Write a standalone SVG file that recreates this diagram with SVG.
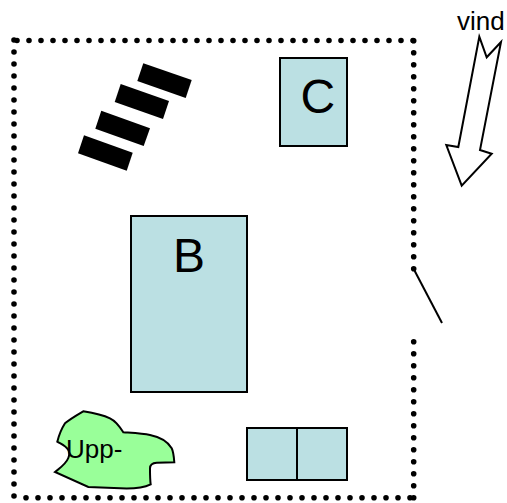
<svg xmlns="http://www.w3.org/2000/svg" width="507" height="503" viewBox="0 0 507 503">
<style>
text{font-family:"Liberation Sans",Arial,sans-serif;fill:#000}
.room{fill:#bbe0e3;stroke:#000;stroke-width:2}
.dots{fill:none;stroke:#000;stroke-width:5.6;stroke-linecap:round;stroke-dasharray:0 12}
.bar{fill:#000}
.big{font-size:48px}
.small{font-size:26px}
</style>
<rect width="507" height="503" fill="#fff"/>
<g id="fence">
<path class="dots" d="M14 40V497"/>
<path class="dots" d="M17 40.500H414"/>
<path class="dots" d="M413.700 40.700V270"/>
<path class="dots" d="M413.700 341.700V498"/>
<path class="dots" d="M26 497.700H414"/>
</g>
<g id="connectors">
<path d="M413.700 269L442 323" fill="none" stroke="#000" stroke-width="2"/>
</g>
<g id="node-c"><rect class="room" x="280" y="58" width="67" height="88"/><text class="big" x="300.500" y="113">C</text></g>
<g id="node-b"><rect class="room" x="131" y="216" width="116" height="176"/><text class="big" x="173" y="272">B</text></g>
<g id="node-d"><rect class="room" x="247" y="428" width="50" height="52"/><rect class="room" x="297" y="428" width="50" height="52"/></g>
<g id="node-solar">
<polygon class="bar" points="143.300,63.300 191.700,80 185.700,98 137.300,81"/>
<polygon class="bar" points="120.700,84 169,101 163,119 114.700,102"/>
<polygon class="bar" points="101.300,110.700 150,128.300 143.700,146 95.300,128.700"/>
<polygon class="bar" points="84,135.300 132.700,152.700 126.700,170.700 78,153.300"/>
</g>
<g id="node-upp">
<path d="M83.300 411.300C94 413 103 415 110 418.300C116 421 120 427 123.300 432.300C133 433 143 433.500 150 435C160 437 168 442 171.700 448.300C173.500 452 174 458 174.300 462.300L156.700 462.700C152 463 150 465 150 468.300C150 474 150 480 150.700 484.300C143 488 135 488.500 126.700 488.500L88.300 487L55 472C60 468 66 464 68.300 458C69.500 455 69.500 452 68.300 450C66 446 61 444 57.300 441.700C59 435 62 428 65 423.300C70 419 77 415 83.300 411.300Z" fill="#99ff99" stroke="#000" stroke-width="2"/>
<text class="small" x="66" y="458">Upp-</text>
</g>
<g id="node-vind">
<text class="small" x="457" y="30">vind</text>
<polygon points="479.300,36.700 486.700,57.300 501,42 480,150 491.700,153.700 461.700,185.700 446.300,145 458.300,147" fill="#fff" stroke="#000" stroke-width="2"/>
</g>
</svg>
